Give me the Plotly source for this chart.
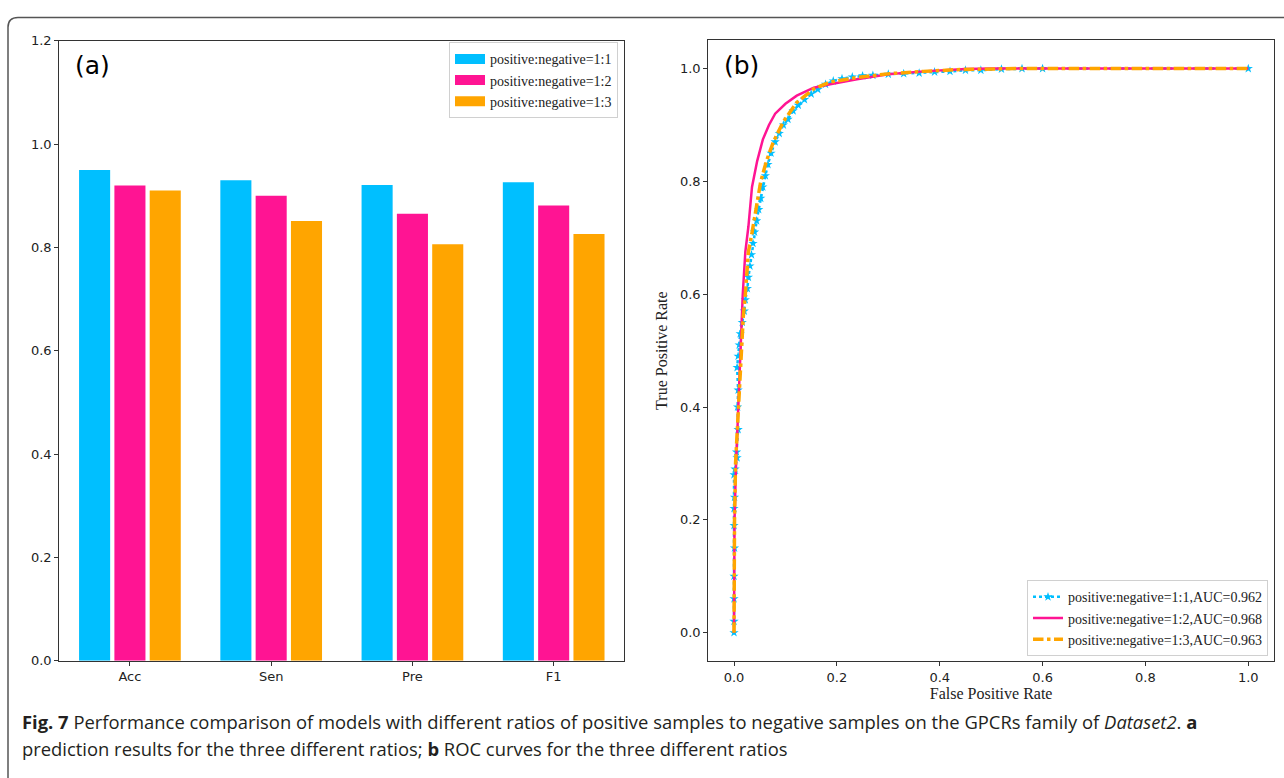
import plotly.graph_objects as go

# ---------------- data ----------------
categories = ["Acc", "Sen", "Pre", "F1"]
ratio_labels = ["positive:negative=1:1", "positive:negative=1:2", "positive:negative=1:3"]
vals_11 = [0.950, 0.930, 0.921, 0.926]
vals_12 = [0.920, 0.900, 0.865, 0.881]
vals_13 = [0.910, 0.851, 0.806, 0.826]

auc_labels = ["positive:negative=1:1,AUC=0.962",
              "positive:negative=1:2,AUC=0.968",
              "positive:negative=1:3,AUC=0.963"]

fpr_11 = [0, 0, 0, 0, 0.001, 0.0, 0.0, 0.001, 0.0, 0.002, 0.006, 0.005, 0.008, 0.007, 0.008,
          0.006, 0.008, 0.010, 0.012, 0.016, 0.020, 0.022, 0.026, 0.028, 0.031, 0.034, 0.037,
          0.040, 0.044, 0.048, 0.052, 0.056, 0.061, 0.066, 0.072, 0.080, 0.088, 0.096, 0.105,
          0.115, 0.125, 0.137, 0.150, 0.163, 0.178, 0.193, 0.21, 0.23, 0.25, 0.27, 0.30, 0.33,
          0.36, 0.39, 0.42, 0.45, 0.48, 0.52, 0.56, 0.60, 1.0]
tpr_11 = [0, 0.02, 0.06, 0.10, 0.15, 0.19, 0.22, 0.24, 0.28, 0.29, 0.31, 0.32, 0.36, 0.40, 0.43,
          0.47, 0.49, 0.51, 0.53, 0.55, 0.57, 0.59, 0.61, 0.63, 0.65, 0.67, 0.69,
          0.71, 0.73, 0.75, 0.77, 0.79, 0.81, 0.83, 0.85, 0.87, 0.885, 0.90, 0.91,
          0.925, 0.935, 0.945, 0.955, 0.963, 0.972, 0.978, 0.982, 0.985, 0.987, 0.988, 0.990, 0.991,
          0.992, 0.994, 0.995, 0.997, 0.997, 0.999, 1.0, 1.0, 1.0]

fpr_12 = [0, 0.0, 0.001, 0.004, 0.008, 0.012, 0.017, 0.022, 0.028, 0.035, 0.045, 0.056, 0.068,
          0.080, 0.100, 0.122, 0.155, 0.187, 0.239, 0.300, 0.368, 0.450, 0.500, 1.0]
tpr_12 = [0, 0.05, 0.20, 0.30, 0.40, 0.50, 0.60, 0.675, 0.72, 0.79, 0.836, 0.874, 0.900,
          0.920, 0.9375, 0.952, 0.966, 0.972, 0.981, 0.990, 0.995, 0.999, 1.0, 1.0]

fpr_13 = [0, 0, 0.001, 0.003, 0.009, 0.0135, 0.018, 0.022, 0.028, 0.035, 0.045, 0.052, 0.063,
          0.077, 0.096, 0.122, 0.155, 0.187, 0.239, 0.303, 0.368, 0.433, 0.55, 1.0]
tpr_13 = [0, 0.05, 0.20, 0.30, 0.40, 0.50, 0.56, 0.60, 0.675, 0.709, 0.767, 0.80, 0.836,
          0.871, 0.906, 0.94, 0.964, 0.976, 0.984, 0.991, 0.995, 0.998, 1.0, 1.0]

colors = ["#00BFFF", "#FF1493", "#FFA500"]

# ---------------- figure ----------------
W, H = 1284, 778   # reference canvas, used for paper-fraction placement
fig = go.Figure()

# panel (a): bars
for lab, vals, col in zip(ratio_labels, [vals_11, vals_12, vals_13], colors):
    fig.add_trace(go.Bar(x=categories, y=vals, marker=dict(color=col, line=dict(width=0)),
                         name=lab, showlegend=False, xaxis="x", yaxis="y"))
# legend patches for panel (a)
for lab, col in zip(ratio_labels, colors):
    fig.add_trace(go.Scatter(x=[None], y=[None], mode="lines", line=dict(color=col, width=11),
                             name=lab, legend="legend", xaxis="x", yaxis="y"))

# panel (b): ROC curves
fig.add_trace(go.Scatter(x=fpr_11, y=tpr_11, mode="lines+markers", name=auc_labels[0],
                         line=dict(color=colors[0], width=2.5, dash="dot"),
                         marker=dict(symbol="star", size=7, color=colors[0]),
                         legend="legend2", xaxis="x2", yaxis="y2"))
fig.add_trace(go.Scatter(x=fpr_12, y=tpr_12, mode="lines", name=auc_labels[1],
                         line=dict(color=colors[1], width=2.5),
                         legend="legend2", xaxis="x2", yaxis="y2"))
fig.add_trace(go.Scatter(x=fpr_13, y=tpr_13, mode="lines", name=auc_labels[2],
                         line=dict(color=colors[2], width=3.5, dash="dashdot"),
                         legend="legend2", xaxis="x2", yaxis="y2"))

axis_common = dict(showline=True, linecolor="#333", linewidth=1.2, mirror=True,
                   ticks="outside", ticklen=4, tickwidth=1, tickcolor="#333",
                   showgrid=False, zeroline=False,
                   tickfont=dict(family="DejaVu Sans", size=13, color="#222"))

fig.update_layout(
    autosize=True, margin=dict(l=0, r=0, t=0, b=0),
    paper_bgcolor="white", plot_bgcolor="white",
    barmode="group", bargap=0.25, bargroupgap=0.12,
    xaxis=dict(domain=[59.3 / W, 624.3 / W], anchor="y", range=[-0.5, 3.5], **axis_common),
    yaxis=dict(domain=[1 - 666.5 / H, 1 - 34.5 / H], anchor="x", range=[0, 1.2],
               tickvals=[0, 0.2, 0.4, 0.6, 0.8, 1.0, 1.2], tickformat=".1f", **axis_common),
    xaxis2=dict(domain=[708.3 / W, 1274 / W], anchor="y2", range=[-0.05, 1.05],
                tickvals=[0, 0.2, 0.4, 0.6, 0.8, 1.0], tickformat=".1f",
                title=dict(text="False Positive Rate", standoff=4,
                           font=dict(family="Liberation Serif", size=16, color="#222")),
                **axis_common),
    yaxis2=dict(domain=[1 - 666.7 / H, 1 - 34 / H], anchor="x2", range=[-0.05, 1.05],
                tickvals=[0, 0.2, 0.4, 0.6, 0.8, 1.0], tickformat=".1f",
                title=dict(text="True Positive Rate", standoff=8,
                           font=dict(family="Liberation Serif", size=16, color="#222")),
                **axis_common),
    legend=dict(x=618 / W, y=1 - 36 / H, xanchor="right", yanchor="top",
                bgcolor="rgba(255,255,255,0.85)", bordercolor="#d0d0d0", borderwidth=1,
                font=dict(family="Liberation Serif", size=14, color="#222"),
                tracegroupgap=0, itemwidth=30),
    legend2=dict(x=1268 / W, y=1 - 662 / H, xanchor="right", yanchor="bottom",
                 bgcolor="rgba(255,255,255,0.85)", bordercolor="#d0d0d0", borderwidth=1,
                 font=dict(family="Liberation Serif", size=14, color="#222"),
                 tracegroupgap=0, itemwidth=30),
    showlegend=True,
)

# panel labels
fig.add_annotation(x=73 / W, y=1 - 60 / H, xref="paper", yref="paper", xanchor="left",
                   yanchor="middle", text="(a)", showarrow=False,
                   font=dict(family="DejaVu Sans", size=25, color="black"))
fig.add_annotation(x=722 / W, y=1 - 60 / H, xref="paper", yref="paper", xanchor="left",
                   yanchor="middle", text="(b)", showarrow=False,
                   font=dict(family="DejaVu Sans", size=25, color="black"))

# caption
cap_font = dict(family="Open Sans", size=18.4, color="#231f20")
fig.add_annotation(x=20 / W, y=1 - 729 / H, xref="paper", yref="paper", xanchor="left",
                   yanchor="middle", showarrow=False, font=cap_font,
                   text="<b>Fig. 7</b> Performance comparison of models with different ratios of positive "
                        "samples to negative samples on the GPCRs family of <i>Dataset2</i>. <b>a</b>")
fig.add_annotation(x=20 / W, y=1 - 756 / H, xref="paper", yref="paper", xanchor="left",
                   yanchor="middle", showarrow=False, font=cap_font,
                   text="prediction results for the three different ratios; <b>b</b> ROC curves for the "
                        "three different ratios")

# outer rounded frame
x0 = 8 / W
yt = 1 - 10.7 / H
r_x, r_y = 10 / W, 10 / H
fig.add_shape(type="path", xref="paper", yref="paper",
              path=f"M {x0},-0.05 L {x0},{yt - r_y} Q {x0},{yt} {x0 + r_x},{yt} L 1.05,{yt}",
              line=dict(color="#555", width=1.5))

fig.write_html("out.html", default_width="100vw", default_height="100vh",
               config={"displayModeBar": False},
               post_script="document.documentElement.style.margin='0';"
                           "document.documentElement.style.overflow='hidden';"
                           "document.body.style.margin='0';document.body.style.overflow='hidden';")
